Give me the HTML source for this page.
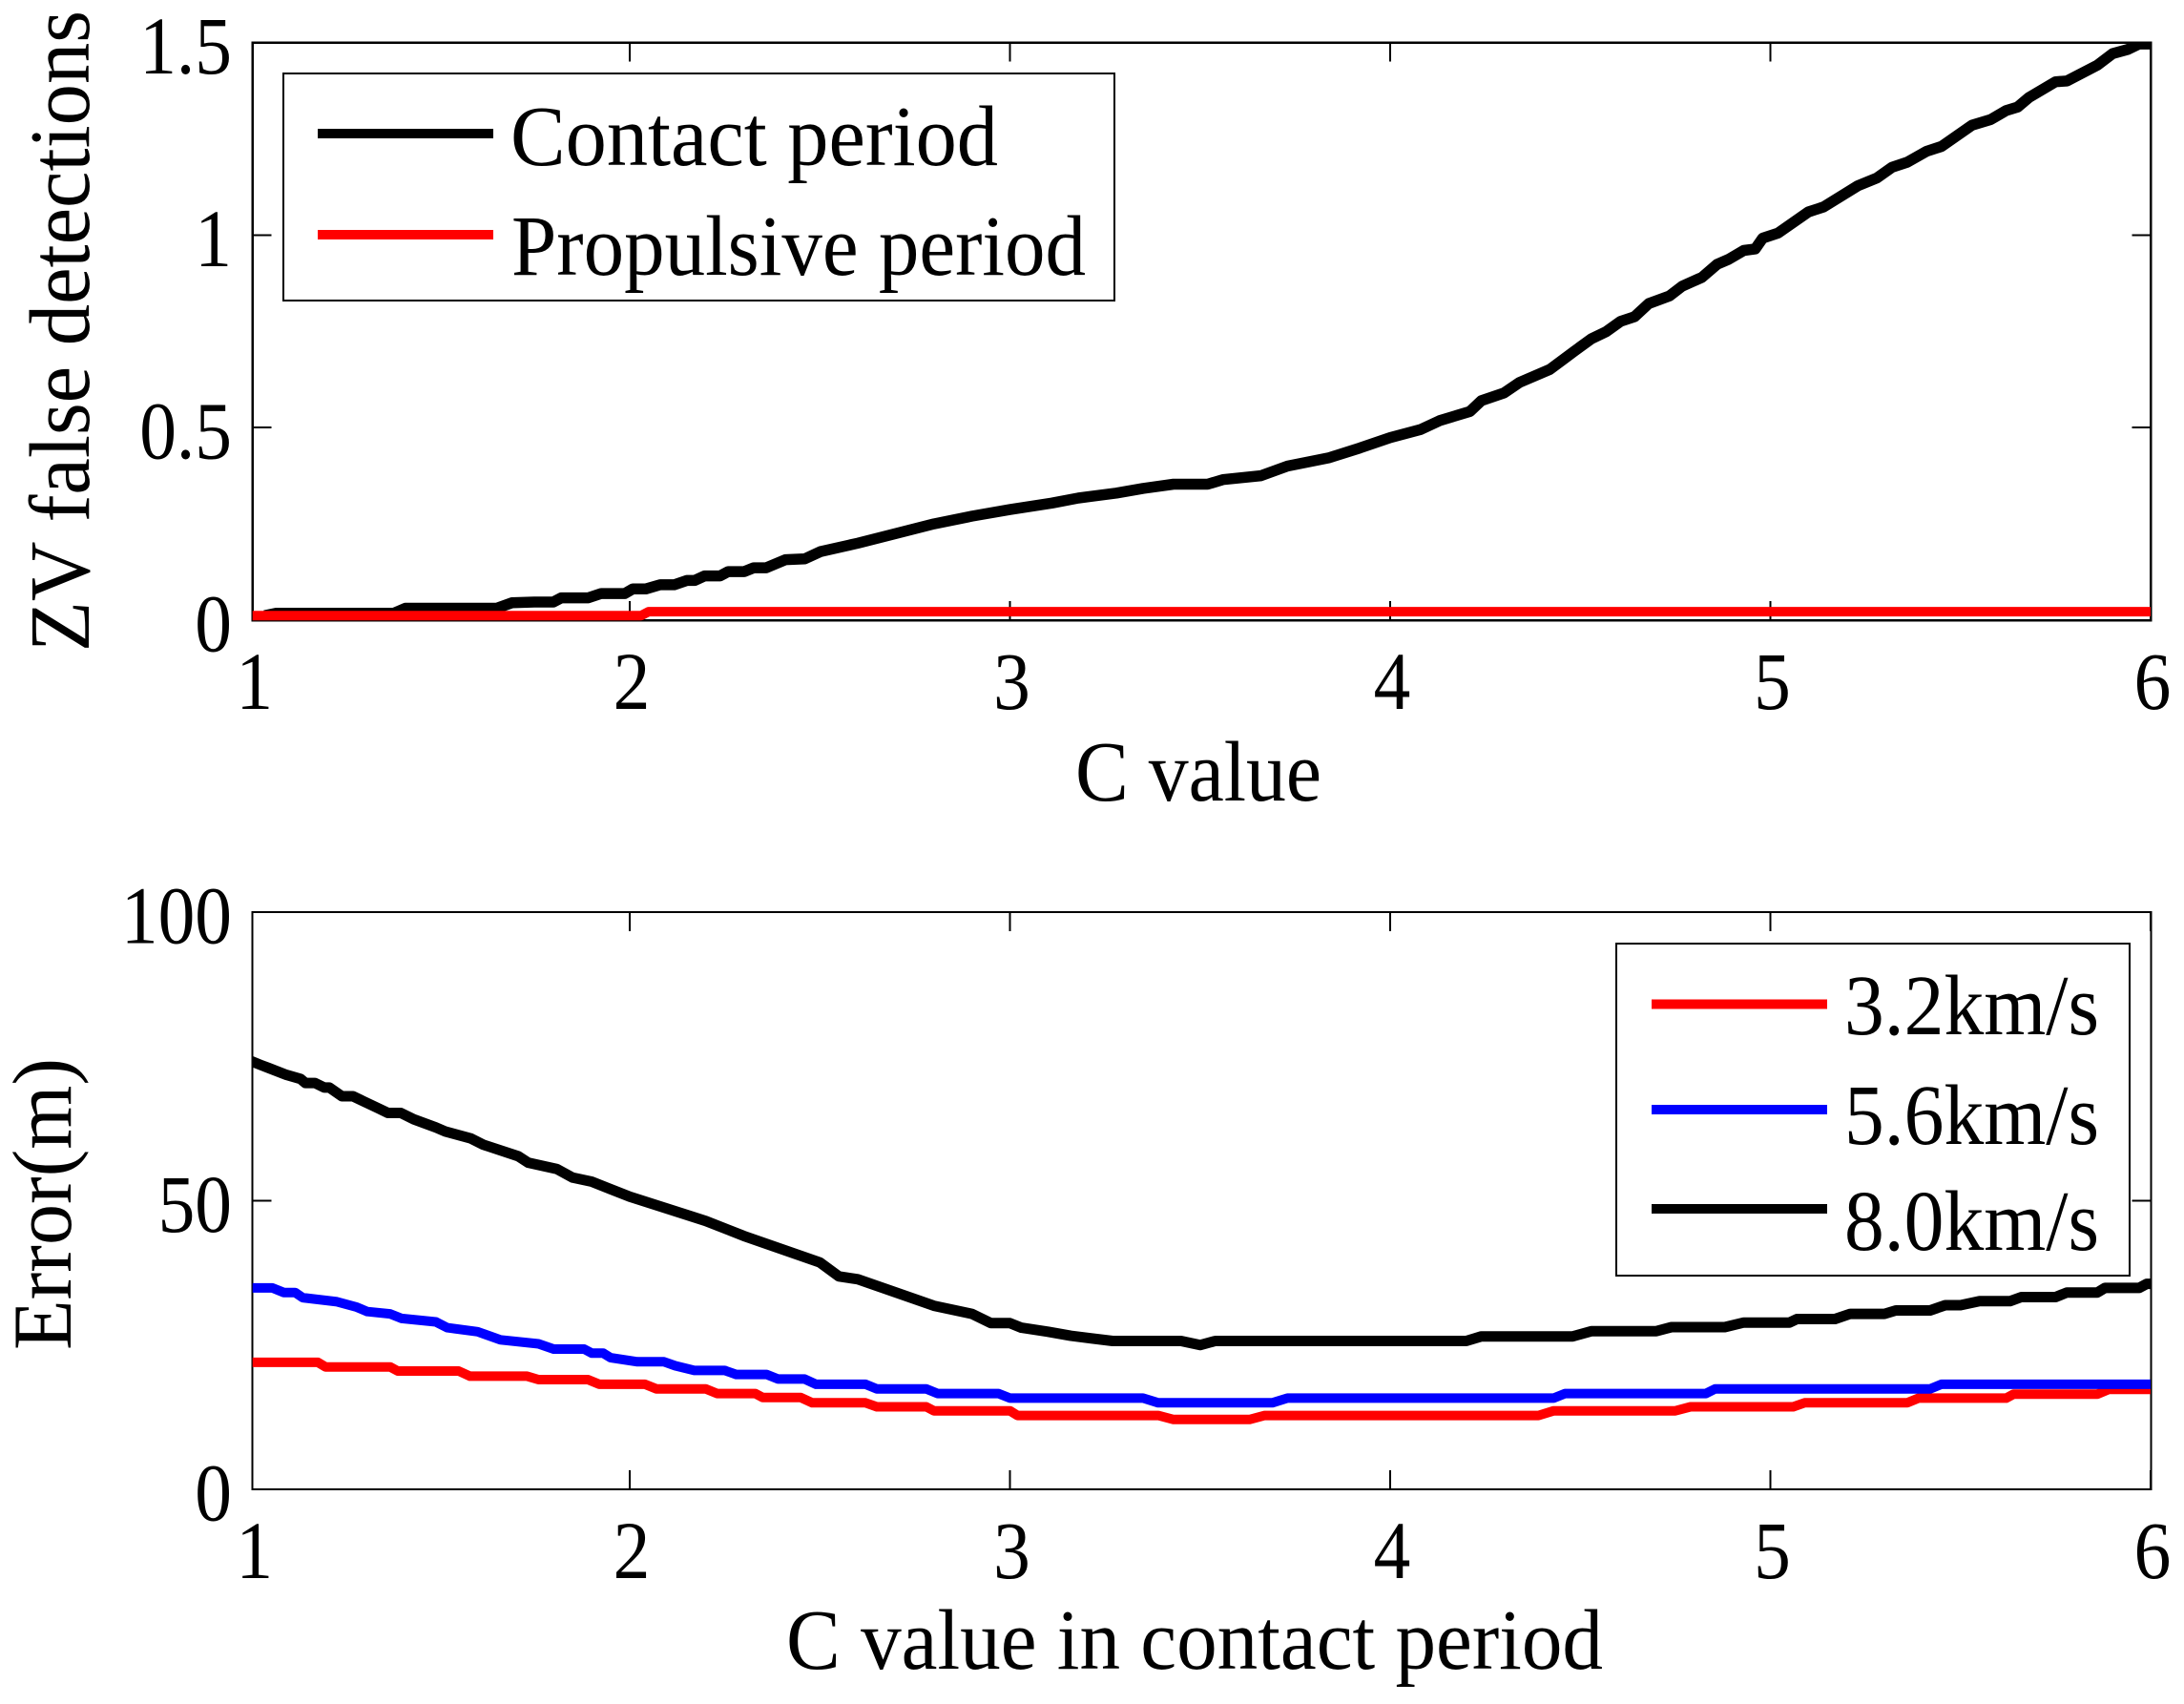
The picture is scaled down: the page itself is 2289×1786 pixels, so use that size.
<!DOCTYPE html>
<html lang="en">
<head>
<meta charset="utf-8">
<title>ZV false detections and error vs C value</title>
<style>
html,body{margin:0;padding:0;background:#fff;}
svg{display:block;}
text{font-family:"Liberation Serif","Times New Roman",serif;fill:#000;}
</style>
</head>
<body>
<svg id="chart" xmlns="http://www.w3.org/2000/svg" width="2289" height="1786" viewBox="0 0 2289 1786">
  <rect x="0" y="0" width="2289" height="1786" fill="#fff"/>
  <defs>
    <clipPath id="clip-top"><rect x="264.7" y="44" width="1989.6" height="610"/></clipPath>
    <clipPath id="clip-bottom"><rect x="264.7" y="956" width="1989.6" height="606"/></clipPath>
  </defs>

  <g id="panel-top"></g>
  <g id="panel-bottom"></g>

  <text transform="translate(93,683) rotate(-90)" font-size="90" textLength="672" lengthAdjust="spacingAndGlyphs">ZV false detections</text>
  <text x="1127" y="839" font-size="90" textLength="258" lengthAdjust="spacingAndGlyphs">C value</text>
  <text transform="translate(74,1415) rotate(-90)" font-size="88" textLength="306" lengthAdjust="spacingAndGlyphs">Error(m)</text>
  <text x="824" y="1749" font-size="90" textLength="856" lengthAdjust="spacingAndGlyphs">C value in contact period</text>

  <g>
    <rect x="297" y="77" width="871" height="238" fill="#fff" stroke="#000" stroke-width="2"/>
    <line x1="333" x2="517" y1="140" y2="140" stroke="#000" stroke-width="10"/>
    <text x="535" y="173" font-size="90" textLength="511" lengthAdjust="spacingAndGlyphs">Contact period</text>
    <line x1="333" x2="517" y1="246" y2="246" stroke="#f00" stroke-width="10"/>
    <text x="536" y="288" font-size="90" textLength="602" lengthAdjust="spacingAndGlyphs">Propulsive period</text>
  </g>

  <g>
    <rect x="1694" y="989" width="538" height="348" fill="#fff" stroke="#000" stroke-width="2"/>
    <line x1="1731" x2="1915" y1="1052.5" y2="1052.5" stroke="#f00" stroke-width="10"/>
    <text x="1933" y="1084" font-size="90" textLength="267" lengthAdjust="spacingAndGlyphs">3.2km/s</text>
    <line x1="1731" x2="1915" y1="1163" y2="1163" stroke="#00f" stroke-width="10"/>
    <text x="1933" y="1199" font-size="90" textLength="267" lengthAdjust="spacingAndGlyphs">5.6km/s</text>
    <line x1="1731" x2="1915" y1="1267" y2="1267" stroke="#000" stroke-width="10"/>
    <text x="1933" y="1310" font-size="90" textLength="267" lengthAdjust="spacingAndGlyphs">8.0km/s</text>
  </g>
</svg>

<script>
var xTicks = [1, 2, 3, 4, 5, 6];
var xTickLabels = ['1', '2', '3', '4', '5', '6'];
var topYTicks = [0, 0.5, 1, 1.5];
var topYTickLabels = ['0', '0.5', '1', '1.5'];
var bottomYTicks = [0, 50, 100];
var bottomYTickLabels = ['0', '50', '100'];

var contactX = [1.04,1.07,1.38,1.41,1.65,1.69,1.749,1.799,1.82,1.891,1.925,1.987,2.008,2.042,2.08,2.117,2.15,2.171,2.197,2.238,2.259,2.301,2.326,2.359,2.41,2.46,2.502,2.6,2.7,2.8,2.9,3.0,3.11,3.18,3.28,3.35,3.43,3.52,3.56,3.66,3.73,3.84,3.92,4.0,4.08,4.13,4.21,4.24,4.3,4.34,4.42,4.484,4.53,4.568,4.606,4.643,4.68,4.735,4.768,4.82,4.86,4.89,4.93,4.96,4.98,5.02,5.1,5.14,5.23,5.28,5.32,5.36,5.41,5.45,5.53,5.58,5.62,5.65,5.68,5.75,5.78,5.86,5.9,5.94,5.97,6.0];
var contactY = [0.012,0.018,0.018,0.031,0.031,0.045,0.047,0.047,0.058,0.058,0.069,0.069,0.081,0.081,0.092,0.092,0.103,0.103,0.115,0.115,0.126,0.126,0.136,0.136,0.157,0.159,0.178,0.20,0.225,0.25,0.27,0.287,0.304,0.317,0.33,0.342,0.353,0.353,0.365,0.375,0.40,0.422,0.447,0.474,0.495,0.518,0.542,0.57,0.59,0.617,0.651,0.698,0.731,0.749,0.776,0.788,0.822,0.842,0.867,0.89,0.924,0.937,0.96,0.964,0.992,1.005,1.06,1.073,1.128,1.148,1.176,1.189,1.217,1.23,1.285,1.30,1.323,1.332,1.357,1.398,1.40,1.441,1.471,1.482,1.496,1.496];

var propulsiveX = [1, 2.03, 2.05, 6];
var propulsiveY = [0.012, 0.012, 0.022, 0.022];

var slowX = [1,1.18,1.2,1.37,1.39,1.55,1.58,1.73,1.76,1.89,1.92,2.04,2.07,2.2,2.23,2.33,2.35,2.45,2.48,2.62,2.65,2.78,2.8,3.0,3.02,3.39,3.43,3.63,3.67,4.39,4.43,4.75,4.79,5.06,5.09,5.36,5.39,5.62,5.64,5.86,5.89,6];
var slowY = [22,22,21.2,21.2,20.5,20.5,19.6,19.6,19,19,18.2,18.2,17.4,17.4,16.6,16.6,15.9,15.9,15,15,14.3,14.3,13.6,13.6,12.8,12.8,12.1,12.1,12.8,12.8,13.6,13.6,14.3,14.3,15,15,15.8,15.8,16.5,16.5,17.3,17.3];

var midX = [1,1.06,1.09,1.12,1.14,1.23,1.28,1.31,1.37,1.4,1.49,1.52,1.6,1.66,1.76,1.8,1.88,1.9,1.93,1.95,2.02,2.09,2.12,2.17,2.25,2.28,2.36,2.39,2.46,2.49,2.62,2.65,2.78,2.81,2.97,3.0,3.35,3.39,3.69,3.73,4.43,4.46,4.83,4.855,5.42,5.45,6];
var midY = [34.9,34.9,34.1,34.1,33.2,32.5,31.6,30.8,30.4,29.6,29,28,27.3,25.9,25.2,24.3,24.3,23.6,23.6,22.8,22.1,22.1,21.4,20.6,20.6,19.9,19.9,19.1,19.1,18.2,18.2,17.4,17.4,16.6,16.6,15.8,15.8,15,15,15.8,15.8,16.6,16.6,17.4,17.4,18.2,18.2];

var fastX = [1,1.03,1.05,1.097,1.134,1.147,1.172,1.197,1.21,1.243,1.272,1.339,1.364,1.398,1.432,1.49,1.515,1.582,1.615,1.707,1.733,1.808,1.85,1.9,2.0,2.1,2.2,2.3,2.4,2.5,2.55,2.6,2.7,2.8,2.9,2.95,3.0,3.03,3.1,3.16,3.27,3.45,3.5,3.54,4.2,4.24,4.48,4.53,4.7,4.74,4.88,4.93,5.05,5.07,5.17,5.21,5.3,5.33,5.42,5.46,5.5,5.55,5.63,5.66,5.75,5.78,5.86,5.88,5.97,5.99,6];
var fastY = [74.3,73.5,73,71.8,71.1,70.4,70.4,69.6,69.6,68.1,68.1,66,65.2,65.2,64.1,62.7,62,60.8,59.7,57.7,56.6,55.5,54,53.3,50.7,48.6,46.5,43.9,41.6,39.3,36.9,36.4,34.1,31.8,30.4,28.8,28.8,28,27.3,26.6,25.7,25.7,25,25.7,25.7,26.5,26.5,27.4,27.4,28.1,28.1,28.9,28.9,29.5,29.5,30.4,30.4,31,31,31.9,31.9,32.6,32.6,33.3,33.3,34.1,34.1,34.9,34.9,35.6,35.6];

var NS = 'http://www.w3.org/2000/svg';
var plotLeft = 264.7;
var plotRight = 2254.3;

function scaleX(v) { return 660 + (v - 2) * 398.5; }
function topScaleY(v) { return 650 - v * (650 - 44.5) / 1.5; }
function bottomScaleY(v) { return 1561 - v * (1561 - 956) / 100; }

function make(parent, tag, attrs, text) {
  var el = document.createElementNS(NS, tag);
  for (var k in attrs) { el.setAttribute(k, attrs[k]); }
  if (text !== undefined) { el.textContent = text; }
  parent.appendChild(el);
  return el;
}

function condense(el, factor) {
  var natural = el.getComputedTextLength();
  el.setAttribute('textLength', (natural * factor).toFixed(1));
  el.setAttribute('lengthAdjust', 'spacingAndGlyphs');
}

function drawAxes(parent, prefix, yScale, yTicks, yLabels, top, bottom, frameTop) {
  var i, el;
  for (i = 0; i < xTicks.length; i++) {
    var tx = Math.max(scaleX(xTicks[i]), plotLeft);
    el = make(parent, 'line', {x1: tx, x2: tx, y1: bottom, y2: bottom - 20, stroke: '#000', 'stroke-width': 2, 'shape-rendering': 'crispEdges'});
    
    
    el = make(parent, 'line', {x1: tx, x2: tx, y1: top, y2: top + 20, stroke: '#000', 'stroke-width': 2, 'shape-rendering': 'crispEdges'});
    
    
    el = make(parent, 'text', {x: tx + 2, y: bottom + 93, 'font-size': 86, 'text-anchor': 'middle'}, xTickLabels[i]);
    
    
    condense(el, 0.9);
  }
  for (i = 0; i < yTicks.length; i++) {
    var ty = yScale(yTicks[i]);
    el = make(parent, 'line', {x1: plotLeft, x2: plotLeft + 20, y1: ty, y2: ty, stroke: '#000', 'stroke-width': 2, 'shape-rendering': 'crispEdges'});
    
    
    el = make(parent, 'line', {x1: plotRight, x2: plotRight - 20, y1: ty, y2: ty, stroke: '#000', 'stroke-width': 2, 'shape-rendering': 'crispEdges'});
    
    
    el = make(parent, 'text', {x: 243, y: ty + 32.5, 'font-size': 86, 'text-anchor': 'end'}, yLabels[i]);
    
    
    condense(el, 0.9);
  }
  el = make(parent, 'rect', {x: plotLeft, y: top, width: plotRight - plotLeft, height: bottom - top, fill: 'none', stroke: '#000', 'stroke-width': frameTop, 'shape-rendering': 'crispEdges'});
  
  
}

function drawLine(parent, name, xs, ys, yScale, color, clip, width) {
  var pts = [];
  for (var i = 0; i < xs.length; i++) {
    pts.push(scaleX(xs[i]).toFixed(1) + ',' + yScale(ys[i]).toFixed(1));
  }
  var el = make(parent, 'polyline', {points: pts.join(' '), fill: 'none', stroke: color, 'stroke-width': width, 'stroke-linejoin': 'round', 'clip-path': 'url(#' + clip + ')'});
  
  
}

var topPanel = document.getElementById('panel-top');
var bottomPanel = document.getElementById('panel-bottom');

drawAxes(topPanel, 'top', topScaleY, topYTicks, topYTickLabels, 44.5, 650, 2.5);
drawLine(topPanel, 'contact-period-line', contactX, contactY, topScaleY, '#000', 'clip-top', 11.5);
drawLine(topPanel, 'propulsive-period-line', propulsiveX, propulsiveY, topScaleY, '#f00', 'clip-top', 10);

drawAxes(bottomPanel, 'bottom', bottomScaleY, bottomYTicks, bottomYTickLabels, 956, 1561, 2);
drawLine(bottomPanel, 'speed-3-2-line', slowX, slowY, bottomScaleY, '#f00', 'clip-bottom', 10);
drawLine(bottomPanel, 'speed-5-6-line', midX, midY, bottomScaleY, '#00f', 'clip-bottom', 10);
drawLine(bottomPanel, 'speed-8-0-line', fastX, fastY, bottomScaleY, '#000', 'clip-bottom', 11);
</script>
</body>
</html>
